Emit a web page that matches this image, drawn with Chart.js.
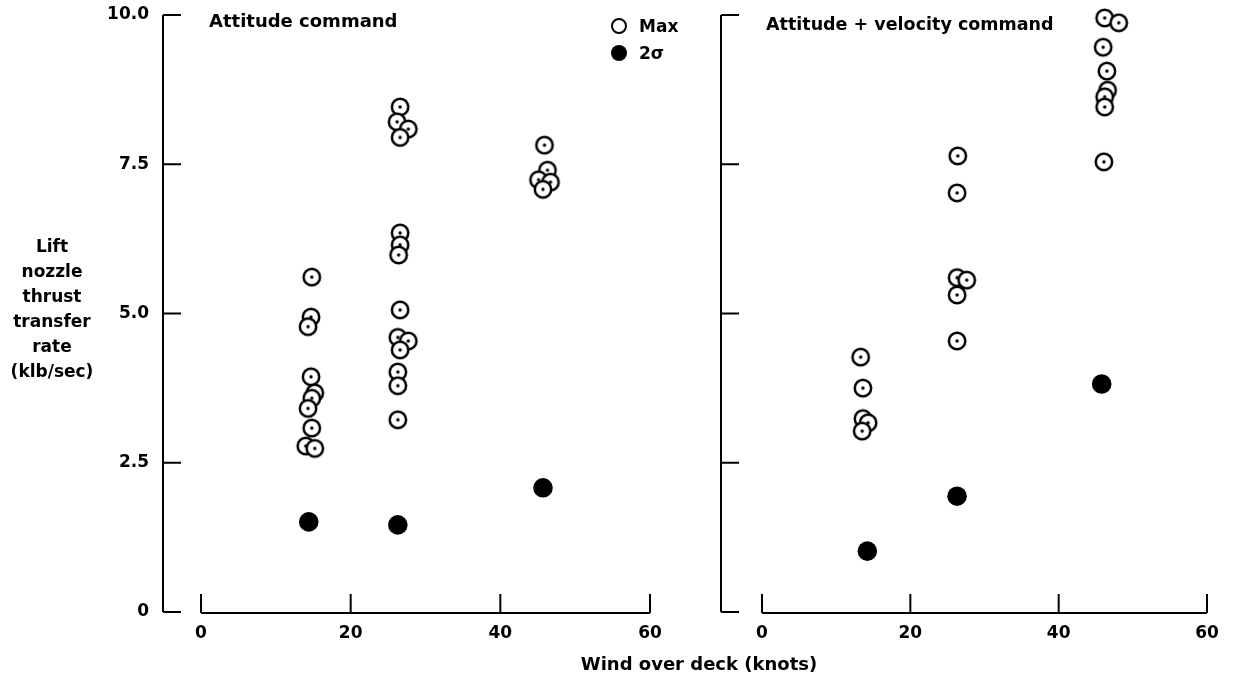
<!DOCTYPE html>
<html>
<head>
<meta charset="utf-8">
<script src="https://cdn.jsdelivr.net/npm/chart.js@4.4.1/dist/chart.umd.min.js"></script>
<style>
  body { margin: 0; background: #fff; width: 1237px; height: 681px; position: relative; overflow: hidden;
         font-family: "DejaVu Sans", sans-serif; font-weight: bold; color: #000; }
  canvas { position: absolute; top: 0; }
  #leftChart { left: 0; }
  #rightChart { left: 690px; }
  .txt { position: absolute; white-space: nowrap; font-size: 17px; line-height: 20px; }
  #yTitle { left: 0; width: 104px; top: 234px; text-align: center; line-height: 25px; }
  #xTitle { left: 699px; top: 653px; font-size: 18px; line-height: 22px; transform: translateX(-50%); }
  .dot { position: absolute; width: 16px; height: 16px; border-radius: 50%; box-sizing: border-box; }
</style>
</head>
<body>
<canvas id="leftChart" width="690" height="681"></canvas>
<canvas id="rightChart" width="547" height="681"></canvas>

<div class="txt" id="yTitle">Lift<br>nozzle<br>thrust<br>transfer<br>rate<br>(klb/sec)</div>
<div class="txt" id="xTitle">Wind over deck (knots)</div>
<div class="txt" style="left:209px; top:11px; font-size:18px;">Attitude command</div>
<div class="txt" style="left:766px; top:14px; font-size:17.5px;">Attitude + velocity command</div>
<div class="dot" style="left:611px; top:18px; border:2.6px solid #000;"></div>
<div class="txt" style="left:639px; top:16px;">Max</div>
<div class="dot" style="left:611px; top:45px; background:#000;"></div>
<div class="txt" style="left:639px; top:43px;">2σ</div>

<script>
// tick values
const xTicks = [0, 20, 40, 60];
const yTicks = [0, 2.5, 5, 7.5, 10];

// Attitude command panel
const leftMaxWind = [14.8, 14.7, 14.3, 14.7, 15.2, 14.8, 14.3, 14.8, 14.0, 15.2,
                     26.6, 26.2, 27.7, 26.6, 26.6, 26.6, 26.4, 26.6, 26.3, 27.7, 26.6, 26.3, 26.3, 26.3,
                     45.9, 46.3, 45.1, 46.7, 45.7];
const leftMaxRate = [5.61, 4.94, 4.78, 3.94, 3.67, 3.58, 3.41, 3.08, 2.78, 2.74,
                     8.46, 8.21, 8.09, 7.95, 6.35, 6.15, 5.98, 5.06, 4.60, 4.54, 4.39, 4.02, 3.79, 3.22,
                     7.82, 7.40, 7.24, 7.20, 7.08];
const leftSigmaWind = [14.4, 26.3, 45.7];
const leftSigmaRate = [1.51, 1.46, 2.08];

// Attitude + velocity command panel
const rightMaxWind = [46.2, 48.1, 46.0, 46.5, 46.6, 46.2, 46.2, 46.1,
                      26.4, 26.3, 26.3, 27.6, 26.3, 26.3,
                      13.3, 13.6, 13.6, 14.3, 13.5];
const rightMaxRate = [9.95, 9.87, 9.46, 9.06, 8.74, 8.63, 8.46, 7.54,
                      7.64, 7.02, 5.60, 5.56, 5.31, 4.54,
                      4.27, 3.75, 3.24, 3.17, 3.03];
const rightSigmaWind = [14.2, 26.3, 45.8];
const rightSigmaRate = [1.02, 1.94, 3.82];

const toPoints = (xs, ys) => xs.map((x, i) => ({ x: x, y: ys[i] }));

// open circle with a dot in the middle
function ringMarker() {
    const c = document.createElement('canvas');
    c.width = 22; c.height = 22;
    const g = c.getContext('2d');
    g.beginPath();
    g.arc(11, 11, 8.2, 0, Math.PI * 2);
    g.fillStyle = '#fff';
    g.fill();
    g.lineWidth = 2.5;
    g.strokeStyle = '#000';
    g.stroke();
    g.beginPath();
    g.arc(11, 11, 1.7, 0, Math.PI * 2);
    g.fillStyle = '#000';
    g.fill();
    return c;
}
const ring = ringMarker();

// inward ticks, detached x axis
const framePlugin = {
    id: 'frame',
    beforeDatasetsDraw(chart) {
        const { ctx, chartArea, scales: { x, y } } = chart;
        const y0 = y.getPixelForValue(0);
        ctx.save();
        ctx.strokeStyle = '#000';
        ctx.lineWidth = 2;
        ctx.beginPath();
        ctx.moveTo(chartArea.left, y.getPixelForValue(10));
        ctx.lineTo(chartArea.left, y0);
        yTicks.forEach(v => {
            const py = y.getPixelForValue(v);
            ctx.moveTo(chartArea.left, py);
            ctx.lineTo(chartArea.left + 18, py);
        });
        ctx.moveTo(x.getPixelForValue(xTicks[0]), y0 + 1);
        ctx.lineTo(x.getPixelForValue(xTicks[xTicks.length - 1]), y0 + 1);
        xTicks.forEach(v => {
            const px = x.getPixelForValue(v);
            ctx.moveTo(px, y0 + 1);
            ctx.lineTo(px, y0 - 18);
        });
        ctx.stroke();
        ctx.restore();
    }
};

const tickFont = { family: 'DejaVu Sans', size: 17, weight: 'bold' };

function makeChart(canvas, maxPts, sigmaPts, xMin, yWidth, padRight, showY) {
    return new Chart(canvas, {
        type: 'scatter',
        data: {
            datasets: [
                {
                    label: 'Max',
                    data: maxPts,
                    pointStyle: ring,
                    pointRadius: 9,
                    clip: false,
                },
                {
                    label: '2σ',
                    data: sigmaPts,
                    pointStyle: 'circle',
                    pointRadius: 9.8,
                    backgroundColor: '#000',
                    borderWidth: 0,
                    clip: false,
                }
            ]
        },
        options: {
            responsive: false,
            animation: false,
            layout: { autoPadding: false, padding: { left: 0, top: 15, right: padRight, bottom: 0 } },
            plugins: {
                legend: { display: false },
                tooltip: { enabled: false },
            },
            scales: {
                x: {
                    type: 'linear',
                    min: xMin,
                    max: 60,
                    grid: { display: false, drawTicks: false },
                    border: { display: false },
                    afterBuildTicks: s => { s.ticks = xTicks.map(v => ({ value: v })); },
                    afterFit: s => { s.height = 69; s.paddingLeft = 0; s.paddingRight = 0; },
                    ticks: { padding: 11, color: '#000', font: tickFont, maxRotation: 0 },
                },
                y: {
                    min: 0,
                    max: 10,
                    grid: { display: false, drawTicks: false },
                    border: { display: false },
                    afterBuildTicks: s => { s.ticks = yTicks.map(v => ({ value: v })); },
                    afterFit: s => { s.width = yWidth; s.paddingTop = 0; s.paddingBottom = 0; },
                    ticks: {
                        display: showY,
                        padding: 14,
                        color: '#000',
                        font: tickFont,
                        callback: v => v === 0 ? '0' : v.toFixed(1),
                    },
                }
            }
        },
        plugins: [framePlugin]
    });
}

makeChart(document.getElementById('leftChart'),
    toPoints(leftMaxWind, leftMaxRate), toPoints(leftSigmaWind, leftSigmaRate),
    -5.08, 163, 40, true);
makeChart(document.getElementById('rightChart'),
    toPoints(rightMaxWind, rightMaxRate), toPoints(rightSigmaWind, rightSigmaRate),
    -5.53, 31, 30, false);
</script>
</body>
</html>
